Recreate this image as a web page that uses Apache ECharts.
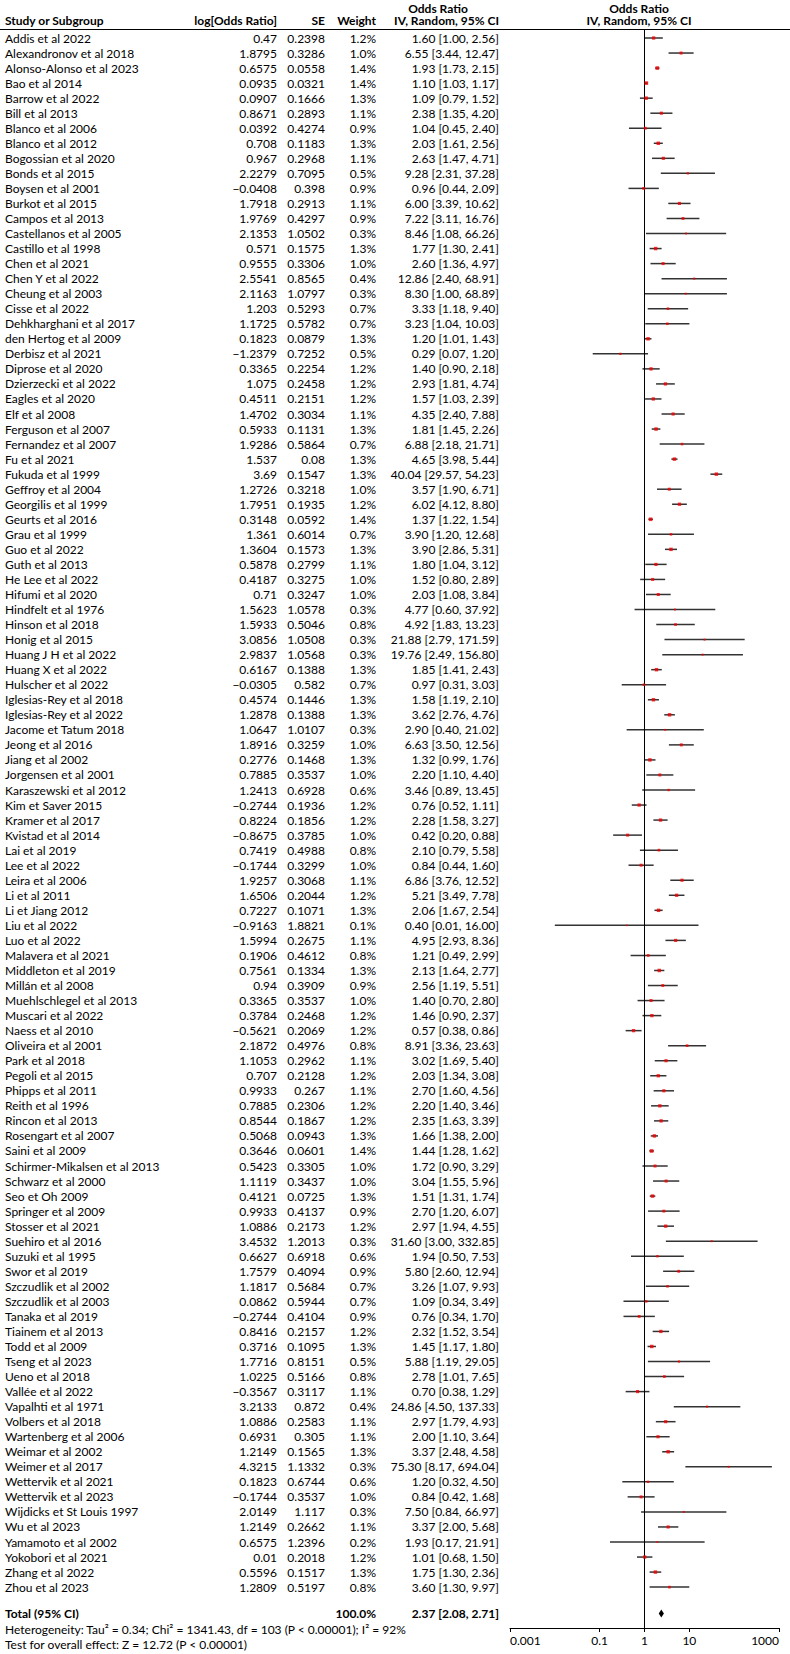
<!DOCTYPE html>
<html>
<head>
<meta charset="utf-8">
<script src="https://cdn.jsdelivr.net/npm/echarts@6/dist/echarts.min.js"></script>
<style>
  html, body { margin: 0; padding: 0; background: #fff; }
  #chart { width: 790px; height: 1654px; }
</style>
</head>
<body>
<div id="chart"></div>
<script>
// study rows
var studies = [
  'Addis et al 2022', 'Alexandronov et al 2018', 'Alonso-Alonso et al 2023', 'Bao et al 2014',
  'Barrow et al 2022', 'Bill et al 2013', 'Blanco et al 2006', 'Blanco et al 2012',
  'Bogossian et al 2020', 'Bonds et al 2015', 'Boysen et al 2001', 'Burkot et al 2015',
  'Campos et al 2013', 'Castellanos et al 2005', 'Castillo et al 1998', 'Chen et al 2021',
  'Chen Y et al 2022', 'Cheung et al 2003', 'Cisse et al 2022', 'Dehkharghani et al 2017',
  'den Hertog et al 2009', 'Derbisz et al 2021', 'Diprose et al 2020', 'Dzierzecki et al 2022',
  'Eagles et al 2020', 'Elf et al 2008', 'Ferguson et al 2007', 'Fernandez et al 2007',
  'Fu et al 2021', 'Fukuda et al 1999', 'Geffroy et al 2004', 'Georgilis et al 1999',
  'Geurts et al 2016', 'Grau et al 1999', 'Guo et al 2022', 'Guth et al 2013',
  'He Lee et al 2022', 'Hifumi et al 2020', 'Hindfelt et al 1976', 'Hinson et al 2018',
  'Honig et al 2015', 'Huang J H et al 2022', 'Huang X et al 2022', 'Hulscher et al 2022',
  'Iglesias-Rey et al 2018', 'Iglesias-Rey et al 2022', 'Jacome et Tatum 2018', 'Jeong et al 2016',
  'Jiang et al 2002', 'Jorgensen et al 2001', 'Karaszewski et al 2012', 'Kim et Saver 2015',
  'Kramer et al 2017', 'Kvistad et al 2014', 'Lai et al 2019', 'Lee et al 2022',
  'Leira et al 2006', 'Li et al 2011', 'Li et Jiang 2012', 'Liu et al 2022',
  'Luo et al 2022', 'Malavera et al 2021', 'Middleton et al 2019', 'Millán et al 2008',
  'Muehlschlegel et al 2013', 'Muscari et al 2022', 'Naess et al 2010', 'Oliveira et al 2001',
  'Park et al 2018', 'Pegoli et al 2015', 'Phipps et al 2011', 'Reith et al 1996',
  'Rincon et al 2013', 'Rosengart et al 2007', 'Saini et al 2009', 'Schirmer-Mikalsen et al 2013',
  'Schwarz et al 2000', 'Seo et Oh 2009', 'Springer et al 2009', 'Stosser et al 2021',
  'Suehiro et al 2016', 'Suzuki et al 1995', 'Swor et al 2019', 'Szczudlik et al 2002',
  'Szczudlik et al 2003', 'Tanaka et al 2019', 'Tiainem et al 2013', 'Todd et al 2009',
  'Tseng et al 2023', 'Ueno et al 2018', 'Vallée et al 2022', 'Vapalhti et al 1971',
  'Volbers et al 2018', 'Wartenberg et al 2006', 'Weimar et al 2002', 'Weimer et al 2017',
  'Wettervik et al 2021', 'Wettervik et al 2023', 'Wijdicks et St Louis 1997', 'Wu et al 2023',
  'Yamamoto et al 2002', 'Yokobori et al 2021', 'Zhang et al 2022', 'Zhou et al 2023'
];
var logOR = [
  0.47, 1.8795, 0.6575, 0.0935, 0.0907, 0.8671, 0.0392, 0.708,
  0.967, 2.2279, -0.0408, 1.7918, 1.9769, 2.1353, 0.571, 0.9555,
  2.5541, 2.1163, 1.203, 1.1725, 0.1823, -1.2379, 0.3365, 1.075,
  0.4511, 1.4702, 0.5933, 1.9286, 1.537, 3.69, 1.2726, 1.7951,
  0.3148, 1.361, 1.3604, 0.5878, 0.4187, 0.71, 1.5623, 1.5933,
  3.0856, 2.9837, 0.6167, -0.0305, 0.4574, 1.2878, 1.0647, 1.8916,
  0.2776, 0.7885, 1.2413, -0.2744, 0.8224, -0.8675, 0.7419, -0.1744,
  1.9257, 1.6506, 0.7227, -0.9163, 1.5994, 0.1906, 0.7561, 0.94,
  0.3365, 0.3784, -0.5621, 2.1872, 1.1053, 0.707, 0.9933, 0.7885,
  0.8544, 0.5068, 0.3646, 0.5423, 1.1119, 0.4121, 0.9933, 1.0886,
  3.4532, 0.6627, 1.7579, 1.1817, 0.0862, -0.2744, 0.8416, 0.3716,
  1.7716, 1.0225, -0.3567, 3.2133, 1.0886, 0.6931, 1.2149, 4.3215,
  0.1823, -0.1744, 2.0149, 1.2149, 0.6575, 0.01, 0.5596, 1.2809
];
var se = [
  0.2398, 0.3286, 0.0558, 0.0321, 0.1666, 0.2893, 0.4274, 0.1183,
  0.2968, 0.7095, 0.398, 0.2913, 0.4297, 1.0502, 0.1575, 0.3306,
  0.8565, 1.0797, 0.5293, 0.5782, 0.0879, 0.7252, 0.2254, 0.2458,
  0.2151, 0.3034, 0.1131, 0.5864, 0.08, 0.1547, 0.3218, 0.1935,
  0.0592, 0.6014, 0.1573, 0.2799, 0.3275, 0.3247, 1.0578, 0.5046,
  1.0508, 1.0568, 0.1388, 0.582, 0.1446, 0.1388, 1.0107, 0.3259,
  0.1468, 0.3537, 0.6928, 0.1936, 0.1856, 0.3785, 0.4988, 0.3299,
  0.3068, 0.2044, 0.1071, 1.8821, 0.2675, 0.4612, 0.1334, 0.3909,
  0.3537, 0.2468, 0.2069, 0.4976, 0.2962, 0.2128, 0.267, 0.2306,
  0.1867, 0.0943, 0.0601, 0.3305, 0.3437, 0.0725, 0.4137, 0.2173,
  1.2013, 0.6918, 0.4094, 0.5684, 0.5944, 0.4104, 0.2157, 0.1095,
  0.8151, 0.5166, 0.3117, 0.872, 0.2583, 0.305, 0.1565, 1.1332,
  0.6744, 0.3537, 1.117, 0.2662, 1.2396, 0.2018, 0.1517, 0.5197
];
var weight = [
  1.2, 1.0, 1.4, 1.4, 1.3, 1.1, 0.9, 1.3,
  1.1, 0.5, 0.9, 1.1, 0.9, 0.3, 1.3, 1.0,
  0.4, 0.3, 0.7, 0.7, 1.3, 0.5, 1.2, 1.2,
  1.2, 1.1, 1.3, 0.7, 1.3, 1.3, 1.0, 1.2,
  1.4, 0.7, 1.3, 1.1, 1.0, 1.0, 0.3, 0.8,
  0.3, 0.3, 1.3, 0.7, 1.3, 1.3, 0.3, 1.0,
  1.3, 1.0, 0.6, 1.2, 1.2, 1.0, 0.8, 1.0,
  1.1, 1.2, 1.3, 0.1, 1.1, 0.8, 1.3, 0.9,
  1.0, 1.2, 1.2, 0.8, 1.1, 1.2, 1.1, 1.2,
  1.2, 1.3, 1.4, 1.0, 1.0, 1.3, 0.9, 1.2,
  0.3, 0.6, 0.9, 0.7, 0.7, 0.9, 1.2, 1.3,
  0.5, 0.8, 1.1, 0.4, 1.1, 1.1, 1.3, 0.3,
  0.6, 1.0, 0.3, 1.1, 0.2, 1.2, 1.3, 0.8
];
var oddsRatio = [
  1.60, 6.55, 1.93, 1.10, 1.09, 2.38, 1.04, 2.03,
  2.63, 9.28, 0.96, 6.00, 7.22, 8.46, 1.77, 2.60,
  12.86, 8.30, 3.33, 3.23, 1.20, 0.29, 1.40, 2.93,
  1.57, 4.35, 1.81, 6.88, 4.65, 40.04, 3.57, 6.02,
  1.37, 3.90, 3.90, 1.80, 1.52, 2.03, 4.77, 4.92,
  21.88, 19.76, 1.85, 0.97, 1.58, 3.62, 2.90, 6.63,
  1.32, 2.20, 3.46, 0.76, 2.28, 0.42, 2.10, 0.84,
  6.86, 5.21, 2.06, 0.40, 4.95, 1.21, 2.13, 2.56,
  1.40, 1.46, 0.57, 8.91, 3.02, 2.03, 2.70, 2.20,
  2.35, 1.66, 1.44, 1.72, 3.04, 1.51, 2.70, 2.97,
  31.60, 1.94, 5.80, 3.26, 1.09, 0.76, 2.32, 1.45,
  5.88, 2.78, 0.70, 24.86, 2.97, 2.00, 3.37, 75.30,
  1.20, 0.84, 7.50, 3.37, 1.93, 1.01, 1.75, 3.60
];
var ciLow = [
  1.00, 3.44, 1.73, 1.03, 0.79, 1.35, 0.45, 1.61,
  1.47, 2.31, 0.44, 3.39, 3.11, 1.08, 1.30, 1.36,
  2.40, 1.00, 1.18, 1.04, 1.01, 0.07, 0.90, 1.81,
  1.03, 2.40, 1.45, 2.18, 3.98, 29.57, 1.90, 4.12,
  1.22, 1.20, 2.86, 1.04, 0.80, 1.08, 0.60, 1.83,
  2.79, 2.49, 1.41, 0.31, 1.19, 2.76, 0.40, 3.50,
  0.99, 1.10, 0.89, 0.52, 1.58, 0.20, 0.79, 0.44,
  3.76, 3.49, 1.67, 0.01, 2.93, 0.49, 1.64, 1.19,
  0.70, 0.90, 0.38, 3.36, 1.69, 1.34, 1.60, 1.40,
  1.63, 1.38, 1.28, 0.90, 1.55, 1.31, 1.20, 1.94,
  3.00, 0.50, 2.60, 1.07, 0.34, 0.34, 1.52, 1.17,
  1.19, 1.01, 0.38, 4.50, 1.79, 1.10, 2.48, 8.17,
  0.32, 0.42, 0.84, 2.00, 0.17, 0.68, 1.30, 1.30
];
var ciHigh = [
  2.56, 12.47, 2.15, 1.17, 1.52, 4.20, 2.40, 2.56,
  4.71, 37.28, 2.09, 10.62, 16.76, 66.26, 2.41, 4.97,
  68.91, 68.89, 9.40, 10.03, 1.43, 1.20, 2.18, 4.74,
  2.39, 7.88, 2.26, 21.71, 5.44, 54.23, 6.71, 8.80,
  1.54, 12.68, 5.31, 3.12, 2.89, 3.84, 37.92, 13.23,
  171.59, 156.80, 2.43, 3.03, 2.10, 4.76, 21.02, 12.56,
  1.76, 4.40, 13.45, 1.11, 3.27, 0.88, 5.58, 1.60,
  12.52, 7.78, 2.54, 16.00, 8.36, 2.99, 2.77, 5.51,
  2.80, 2.37, 0.86, 23.63, 5.40, 3.08, 4.56, 3.46,
  3.39, 2.00, 1.62, 3.29, 5.96, 1.74, 6.07, 4.55,
  332.85, 7.53, 12.94, 9.93, 3.49, 1.70, 3.54, 1.80,
  29.05, 7.65, 1.29, 137.33, 4.93, 3.64, 4.58, 694.04,
  4.50, 1.68, 66.97, 5.68, 21.91, 1.50, 2.36, 9.97
];
// pooled random-effects estimate
var totalOR = 2.37;
var totalLow = 2.08;
var totalHigh = 2.71;
var totalWeight = 100.0;
var xTicks = [0.001, 0.1, 1, 10, 1000];

var FONT = '12px Lato, "Liberation Sans", sans-serif';
var BOLD = 'bold 12px Lato, "Liberation Sans", sans-serif';
var COL_NAME = 5, COL_LOG = 277, COL_SE = 325, COL_W = 376, COL_OR = 499;
var ROW0 = 38, PITCH = 15.04;
var GRID_TOP = 29.5, AXIS_Y = 1628;

function num(v) { return String(v).replace('-', '\u2212'); }
function ciText(o, l, h) { return o.toFixed(2) + ' [' + l.toFixed(2) + ', ' + h.toFixed(2) + ']'; }
function txt(x, y, text, align, font) {
  return { type: 'text', x: x, y: y, silent: true,
    style: { text: text, align: align, verticalAlign: 'middle', font: font || FONT, fill: '#000' } };
}

var myChart = echarts.init(document.getElementById('chart'), null, { renderer: 'svg' });
var totalRow = studies.length + 0.75;

var option = {
  animation: false,
  backgroundColor: '#fff',
  grid: { left: 510, top: GRID_TOP, width: 269, height: AXIS_Y - GRID_TOP },
  xAxis: {
    type: 'log', logBase: 10, min: 0.001, max: 1000,
    axisLine: { onZero: false, lineStyle: { color: '#000', width: 1 } },
    axisTick: { length: 4, customValues: xTicks, lineStyle: { color: '#000' } },
    axisLabel: {
      customValues: xTicks, color: '#000', fontFamily: 'Lato', fontSize: 12, margin: 6,
      alignMinLabel: 'left', alignMaxLabel: 'right',
      formatter: function (v) { return String(Number(v.toPrecision(6))); }
    },
    splitLine: { show: false }
  },
  yAxis: {
    type: 'value', inverse: true, show: false,
    min: (GRID_TOP - ROW0) / PITCH, max: (AXIS_Y - ROW0) / PITCH
  },
  graphic: [
    { type: 'line', silent: true, shape: { x1: 0, y1: GRID_TOP, x2: 790, y2: GRID_TOP },
      style: { stroke: '#000', lineWidth: 1 } },
    txt(438, 8, 'Odds Ratio', 'center', BOLD),
    txt(639, 8, 'Odds Ratio', 'center', BOLD),
    txt(COL_NAME, 20, 'Study or Subgroup', 'left', BOLD),
    txt(COL_LOG, 20, 'log[Odds Ratio]', 'right', BOLD),
    txt(COL_SE, 20, 'SE', 'right', BOLD),
    txt(COL_W, 20, 'Weight', 'right', BOLD),
    txt(COL_OR, 20, 'IV, Random, 95% CI', 'right', BOLD),
    txt(639, 20, 'IV, Random, 95% CI', 'center', BOLD),
    txt(COL_NAME, 1629, 'Heterogeneity: Tau\u00b2 = 0.34; Chi\u00b2 = 1341.43, df = 103 (P < 0.00001); I\u00b2 = 92%', 'left'),
    txt(COL_NAME, 1644, 'Test for overall effect: Z = 12.72 (P < 0.00001)', 'left')
  ],
  series: [
    {
      // table columns
      type: 'custom', name: 'table', silent: true, clip: false,
      data: studies.map(function (s, i) { return [1, i]; }),
      renderItem: function (params, api) {
        var i = params.dataIndex;
        var y = api.coord([1, api.value(1)])[1];
        return { type: 'group', children: [
          txt(COL_NAME, y, studies[i], 'left'),
          txt(COL_LOG, y, num(logOR[i]), 'right'),
          txt(COL_SE, y, num(se[i]), 'right'),
          txt(COL_W, y, weight[i].toFixed(1) + '%', 'right'),
          txt(COL_OR, y, ciText(oddsRatio[i], ciLow[i], ciHigh[i]), 'right')
        ] };
      }
    },
    {
      // confidence interval whiskers
      type: 'custom', name: 'ci', silent: true,
      data: studies.map(function (s, i) { return [ciLow[i], ciHigh[i], i]; }),
      encode: { x: [0, 1], y: 2 },
      renderItem: function (params, api) {
        var a = api.coord([api.value(0), api.value(2)]);
        var b = api.coord([api.value(1), api.value(2)]);
        return { type: 'line', shape: { x1: a[0], y1: a[1], x2: b[0], y2: b[1] },
          style: { stroke: '#333', lineWidth: 1.5 } };
      }
    },
    {
      type: 'scatter', name: 'or', silent: true, z: 5,
      symbol: 'rect',
      data: oddsRatio.map(function (v, i) { return [v, i, weight[i]]; }),
      symbolSize: function (d) { return 1.5 + 1.5 * d[2]; },
      itemStyle: { color: '#f00000' },
      markLine: {
        silent: true, symbol: 'none', label: { show: false },
        lineStyle: { color: '#000', width: 1, type: 'solid' },
        data: [{ xAxis: 1 }]
      }
    },
    {
      // pooled estimate row
      type: 'custom', name: 'total', silent: true, clip: false,
      data: [[totalLow, totalOR, totalHigh, totalRow]],
      encode: { x: [0, 1, 2], y: 3 },
      renderItem: function (params, api) {
        var r = api.value(3);
        var l = api.coord([api.value(0), r]);
        var c = api.coord([api.value(1), r]);
        var h = api.coord([api.value(2), r]);
        return { type: 'group', children: [
          { type: 'polygon', shape: { points: [[l[0], l[1]], [c[0], c[1] - 4], [h[0], h[1]], [c[0], c[1] + 4]] },
            style: { fill: '#000' } },
          txt(COL_NAME, c[1], 'Total (95% CI)', 'left', BOLD),
          txt(COL_W, c[1], totalWeight.toFixed(1) + '%', 'right', BOLD),
          txt(COL_OR, c[1], ciText(totalOR, totalLow, totalHigh), 'right', BOLD)
        ] };
      }
    }
  ]
};

myChart.setOption(option);
</script>
</body>
</html>
